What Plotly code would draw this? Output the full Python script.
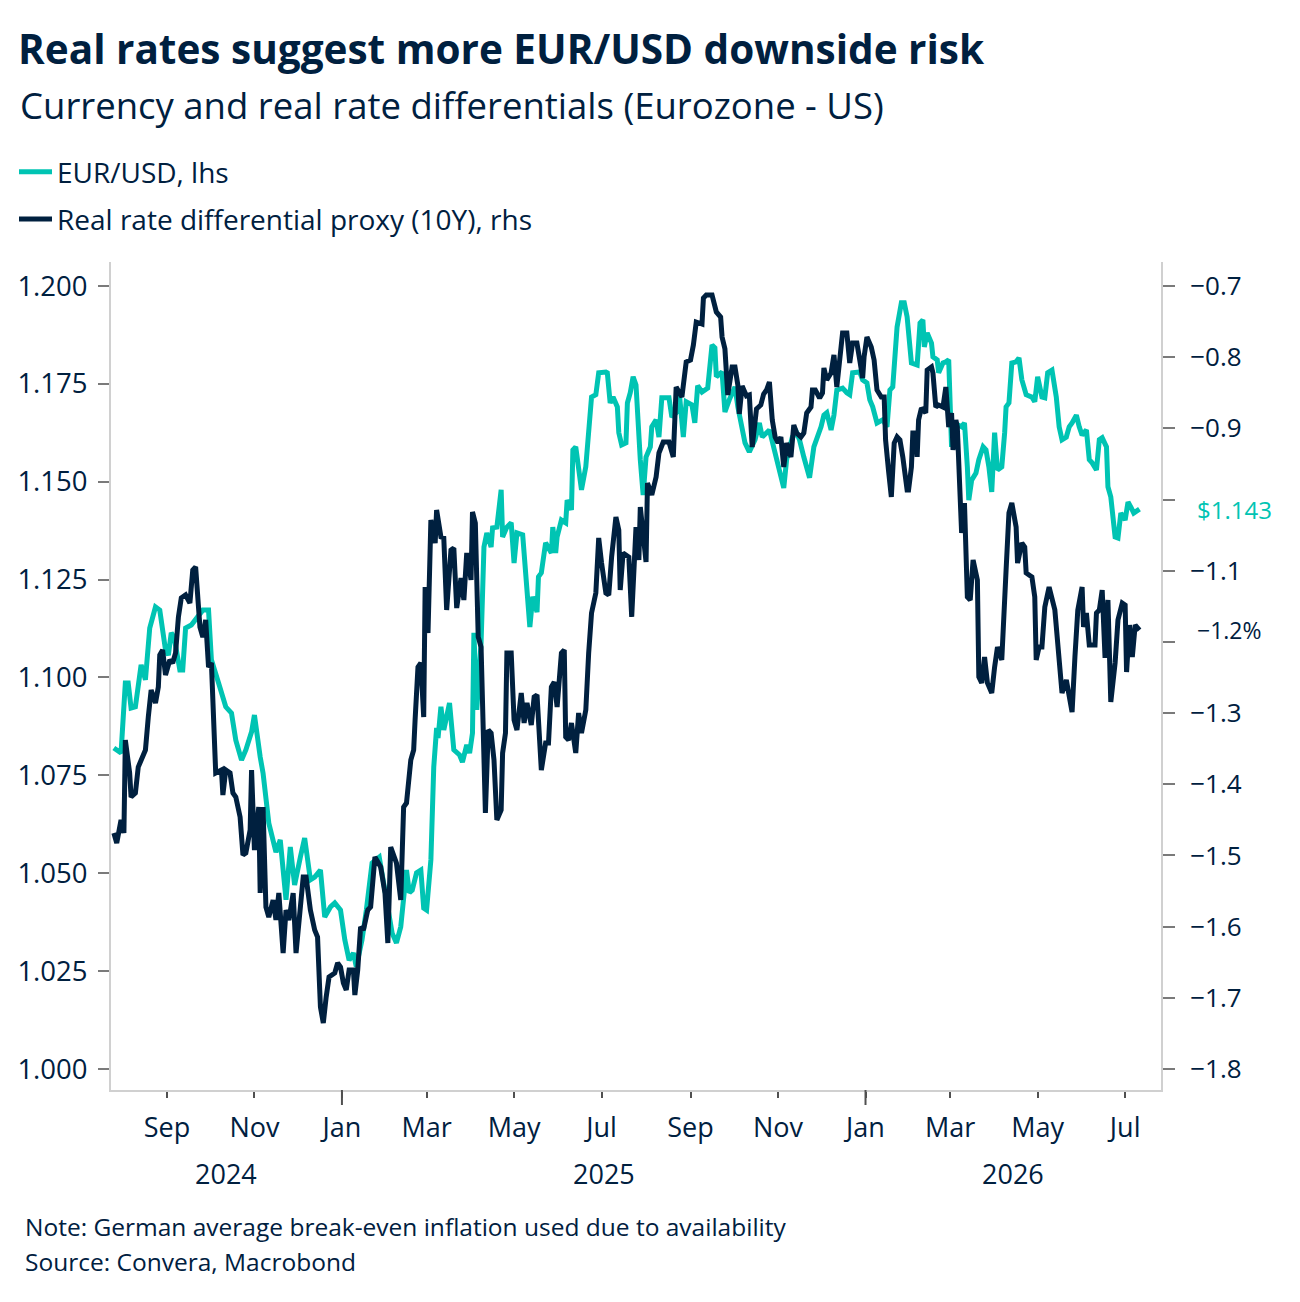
import pandas as pd
import plotly.graph_objects as go

# ---------------- data ----------------
eur_dates = [
    "2024-07-26", "2024-07-31", "2024-08-03", "2024-08-05", "2024-08-07", "2024-08-10", "2024-08-14", "2024-08-17",
    "2024-08-20", "2024-08-24", "2024-08-27", "2024-08-31",
    "2024-09-02", "2024-09-04", "2024-09-06", "2024-09-10", "2024-09-12", "2024-09-14", "2024-09-18", "2024-09-21",
    "2024-09-26", "2024-09-30",
    "2024-10-02", "2024-10-07", "2024-10-10", "2024-10-12", "2024-10-16", "2024-10-19", "2024-10-23", "2024-10-26",
    "2024-10-30",
    "2024-11-01", "2024-11-05", "2024-11-07", "2024-11-11", "2024-11-14", "2024-11-16", "2024-11-19", "2024-11-21",
    "2024-11-23", "2024-11-26", "2024-11-29",
    "2024-12-03", "2024-12-06", "2024-12-10", "2024-12-13", "2024-12-17", "2024-12-20", "2024-12-24", "2024-12-27",
    "2024-12-31",
    "2025-01-03", "2025-01-06", "2025-01-09", "2025-01-11", "2025-01-15", "2025-01-18", "2025-01-22", "2025-01-27",
    "2025-01-29", "2025-01-31",
    "2025-02-05", "2025-02-08", "2025-02-11", "2025-02-15", "2025-02-17", "2025-02-19", "2025-02-22", "2025-02-25",
    "2025-02-27",
    "2025-03-01", "2025-03-04", "2025-03-06", "2025-03-08", "2025-03-09", "2025-03-11", "2025-03-13", "2025-03-17",
    "2025-03-20", "2025-03-24", "2025-03-26", "2025-03-29", "2025-03-31",
    "2025-04-02", "2025-04-03", "2025-04-05", "2025-04-08", "2025-04-10", "2025-04-12", "2025-04-15", "2025-04-16",
    "2025-04-19", "2025-04-22", "2025-04-23", "2025-04-26", "2025-04-29",
    "2025-05-01", "2025-05-03", "2025-05-07", "2025-05-09", "2025-05-12", "2025-05-14", "2025-05-17", "2025-05-18",
    "2025-05-20", "2025-05-23", "2025-05-27", "2025-05-28", "2025-05-30", "2025-05-31",
    "2025-06-03", "2025-06-06", "2025-06-07", "2025-06-10", "2025-06-11", "2025-06-13", "2025-06-15", "2025-06-17",
    "2025-06-20", "2025-06-22", "2025-06-24", "2025-06-27", "2025-06-29",
    "2025-07-04", "2025-07-05", "2025-07-07", "2025-07-09", "2025-07-12", "2025-07-13", "2025-07-15", "2025-07-18",
    "2025-07-19", "2025-07-21", "2025-07-23", "2025-07-25", "2025-07-28", "2025-07-30",
    "2025-08-01", "2025-08-04", "2025-08-05", "2025-08-08", "2025-08-10", "2025-08-12", "2025-08-17", "2025-08-19",
    "2025-08-22", "2025-08-24", "2025-08-27", "2025-08-29",
    "2025-09-02", "2025-09-04", "2025-09-06", "2025-09-09", "2025-09-13", "2025-09-16", "2025-09-18", "2025-09-19",
    "2025-09-23", "2025-09-25", "2025-09-28",
    "2025-10-02", "2025-10-04", "2025-10-07", "2025-10-09", "2025-10-12", "2025-10-16", "2025-10-19", "2025-10-21",
    "2025-10-26", "2025-10-30",
    "2025-11-02", "2025-11-05", "2025-11-07", "2025-11-11", "2025-11-14", "2025-11-16", "2025-11-19", "2025-11-23",
    "2025-11-26", "2025-11-28",
    "2025-12-01", "2025-12-03", "2025-12-05", "2025-12-08", "2025-12-10", "2025-12-12", "2025-12-16", "2025-12-19",
    "2025-12-21", "2025-12-23", "2025-12-28", "2025-12-30",
    "2026-01-02", "2026-01-04", "2026-01-06", "2026-01-09", "2026-01-13", "2026-01-16", "2026-01-18", "2026-01-20",
    "2026-01-23", "2026-01-26", "2026-01-28", "2026-01-30",
    "2026-02-02", "2026-02-06", "2026-02-08", "2026-02-10", "2026-02-11", "2026-02-13", "2026-02-16", "2026-02-17",
    "2026-02-20", "2026-02-21", "2026-02-24", "2026-02-26", "2026-02-28",
    "2026-03-02", "2026-03-04", "2026-03-09", "2026-03-11", "2026-03-13", "2026-03-14", "2026-03-16", "2026-03-19",
    "2026-03-21", "2026-03-24", "2026-03-26", "2026-03-28", "2026-03-30",
    "2026-04-01", "2026-04-03", "2026-04-06", "2026-04-08", "2026-04-09", "2026-04-11", "2026-04-13", "2026-04-16",
    "2026-04-18", "2026-04-20", "2026-04-23", "2026-04-27", "2026-04-29",
    "2026-05-01", "2026-05-04", "2026-05-06", "2026-05-08", "2026-05-11", "2026-05-14", "2026-05-16", "2026-05-18",
    "2026-05-21", "2026-05-23", "2026-05-25", "2026-05-28", "2026-05-30",
    "2026-06-01", "2026-06-04", "2026-06-06", "2026-06-08", "2026-06-11", "2026-06-13", "2026-06-15", "2026-06-18",
    "2026-06-19", "2026-06-21", "2026-06-24", "2026-06-26", "2026-06-28",
    "2026-07-01", "2026-07-03", "2026-07-05", "2026-07-07", "2026-07-11",
]
eur_values = [
    1.0820, 1.0807, 1.0986, 1.0986, 1.0922, 1.0925, 1.1032, 1.0994, 1.1126, 1.1180, 1.1172, 1.1070,
    1.1057, 1.1114, 1.1103, 1.1019, 1.1019, 1.1126, 1.1134, 1.1147, 1.1172, 1.1172,
    1.1045, 1.0986, 1.0950, 1.0925, 1.0909, 1.0840, 1.0789, 1.0815, 1.0861,
    1.0904, 1.0797, 1.0756, 1.0628, 1.0585, 1.0554, 1.0585, 1.0501, 1.0432, 1.0567, 1.0470,
    1.0541, 1.0590, 1.0483, 1.0490, 1.0508, 1.0388, 1.0414, 1.0424, 1.0406,
    1.0330, 1.0278, 1.0296, 1.0261, 1.0330, 1.0406, 1.0526, 1.0541, 1.0501, 1.0450,
    1.0347, 1.0322, 1.0363, 1.0508, 1.0450, 1.0457, 1.0501, 1.0508, 1.0411,
    1.0406, 1.0534, 1.0771, 1.0871, 1.0845, 1.0925, 1.0866, 1.0935, 1.0815, 1.0802, 1.0784, 1.0828, 1.0807,
    1.0858, 1.1114, 1.0917, 1.1088, 1.1333, 1.1369, 1.1333, 1.1382, 1.1384, 1.1479, 1.1359, 1.1384, 1.1395,
    1.1292, 1.1369, 1.1364, 1.1282, 1.1129, 1.1206, 1.1167, 1.1257, 1.1267, 1.1344, 1.1318, 1.1384, 1.1318, 1.1359,
    1.1402, 1.1395, 1.1453, 1.1428, 1.1581, 1.1589, 1.1522, 1.1479, 1.1538, 1.1625, 1.1716, 1.1722, 1.1778,
    1.1780, 1.1778, 1.1701, 1.1716, 1.1691, 1.1625, 1.1594, 1.1599, 1.1701, 1.1727, 1.1768, 1.1747, 1.1556, 1.1466,
    1.1563, 1.1589, 1.1640, 1.1658, 1.1614, 1.1714, 1.1714, 1.1665, 1.1676, 1.1734, 1.1614, 1.1704,
    1.1696, 1.1650, 1.1745, 1.1729, 1.1739, 1.1849, 1.1842, 1.1768, 1.1780, 1.1678, 1.1709,
    1.1742, 1.1691, 1.1640, 1.1599, 1.1576, 1.1607, 1.1650, 1.1614, 1.1632, 1.1573,
    1.1538, 1.1484, 1.1556, 1.1614, 1.1625, 1.1607, 1.1563, 1.1510, 1.1589, 1.1607,
    1.1640, 1.1670, 1.1676, 1.1632, 1.1670, 1.1734, 1.1739, 1.1727, 1.1722, 1.1778, 1.1780, 1.1760,
    1.1752, 1.1709, 1.1691, 1.1650, 1.1658, 1.1640, 1.1734, 1.1742, 1.1895, 1.1957, 1.1957, 1.1921,
    1.1803, 1.1798, 1.1905, 1.1913, 1.1844, 1.1880, 1.1854, 1.1819, 1.1811, 1.1778, 1.1803, 1.1806, 1.1811,
    1.1589, 1.1650, 1.1640, 1.1650, 1.1538, 1.1453, 1.1504, 1.1522, 1.1556, 1.1589, 1.1581, 1.1538, 1.1474,
    1.1625, 1.1530, 1.1538, 1.1625, 1.1691, 1.1701, 1.1803, 1.1806, 1.1816, 1.1760, 1.1722, 1.1716, 1.1704,
    1.1768, 1.1716, 1.1714, 1.1778, 1.1785, 1.1716, 1.1640, 1.1607, 1.1614, 1.1640, 1.1650, 1.1670, 1.1640,
    1.1619, 1.1632, 1.1556, 1.1548, 1.1530, 1.1607, 1.1612, 1.1589, 1.1487, 1.1461, 1.1359, 1.1356, 1.1420,
    1.1402, 1.1448, 1.1435, 1.1420, 1.1430,
]

rr_dates = [
    "2024-07-26", "2024-07-28", "2024-07-31", "2024-08-02", "2024-08-03", "2024-08-06", "2024-08-07", "2024-08-10",
    "2024-08-12", "2024-08-14", "2024-08-17", "2024-08-19", "2024-08-21", "2024-08-24", "2024-08-26", "2024-08-27",
    "2024-08-29", "2024-08-31",
    "2024-09-03", "2024-09-05", "2024-09-07", "2024-09-09", "2024-09-11", "2024-09-14", "2024-09-17", "2024-09-19",
    "2024-09-21", "2024-09-24", "2024-09-26", "2024-09-28", "2024-09-30",
    "2024-10-02", "2024-10-04", "2024-10-05", "2024-10-09", "2024-10-10", "2024-10-12", "2024-10-15", "2024-10-17",
    "2024-10-19", "2024-10-22", "2024-10-24", "2024-10-26", "2024-10-29", "2024-10-30", "2024-10-31",
    "2024-11-01", "2024-11-04", "2024-11-05", "2024-11-07", "2024-11-09", "2024-11-11", "2024-11-14", "2024-11-16",
    "2024-11-18", "2024-11-21", "2024-11-23", "2024-11-25", "2024-11-28", "2024-11-30",
    "2024-12-02", "2024-12-05", "2024-12-07", "2024-12-10", "2024-12-13", "2024-12-15", "2024-12-17", "2024-12-19",
    "2024-12-21", "2024-12-23", "2024-12-27", "2024-12-29", "2024-12-31",
    "2025-01-02", "2025-01-04", "2025-01-06", "2025-01-09", "2025-01-10", "2025-01-12", "2025-01-14", "2025-01-16",
    "2025-01-19", "2025-01-21", "2025-01-24", "2025-01-28", "2025-01-31",
    "2025-02-02", "2025-02-04", "2025-02-08", "2025-02-11", "2025-02-13", "2025-02-15", "2025-02-18", "2025-02-20",
    "2025-02-21", "2025-02-23", "2025-02-25", "2025-02-27", "2025-02-28",
    "2025-03-02", "2025-03-04", "2025-03-07", "2025-03-08", "2025-03-11", "2025-03-13", "2025-03-15", "2025-03-18",
    "2025-03-20", "2025-03-22", "2025-03-25", "2025-03-27", "2025-03-29",
    "2025-04-01", "2025-04-02", "2025-04-04", "2025-04-06", "2025-04-08", "2025-04-10", "2025-04-11", "2025-04-13",
    "2025-04-15", "2025-04-17", "2025-04-19", "2025-04-22", "2025-04-23", "2025-04-25", "2025-04-26", "2025-04-29",
    "2025-05-01", "2025-05-03", "2025-05-06", "2025-05-08", "2025-05-10", "2025-05-13", "2025-05-15", "2025-05-17",
    "2025-05-18", "2025-05-20", "2025-05-23", "2025-05-25", "2025-05-27", "2025-05-29", "2025-05-31",
    "2025-06-03", "2025-06-05", "2025-06-06", "2025-06-08", "2025-06-10", "2025-06-13", "2025-06-15", "2025-06-17",
    "2025-06-20", "2025-06-22", "2025-06-24", "2025-06-27", "2025-06-29",
    "2025-07-01", "2025-07-04", "2025-07-06", "2025-07-08", "2025-07-11", "2025-07-13", "2025-07-14", "2025-07-16",
    "2025-07-20", "2025-07-22", "2025-07-25", "2025-07-27", "2025-07-28",
    "2025-08-01", "2025-08-02", "2025-08-05", "2025-08-08", "2025-08-10", "2025-08-13", "2025-08-17", "2025-08-20",
    "2025-08-22", "2025-08-26", "2025-08-27", "2025-08-29",
    "2025-09-01", "2025-09-03", "2025-09-05", "2025-09-09", "2025-09-10", "2025-09-12", "2025-09-16", "2025-09-19",
    "2025-09-22", "2025-09-23", "2025-09-25", "2025-09-27", "2025-09-30",
    "2025-10-02", "2025-10-04", "2025-10-05", "2025-10-07", "2025-10-10", "2025-10-12", "2025-10-14", "2025-10-17",
    "2025-10-20", "2025-10-22", "2025-10-24", "2025-10-26", "2025-10-28", "2025-10-30",
    "2025-11-01", "2025-11-03", "2025-11-05", "2025-11-07", "2025-11-10", "2025-11-12", "2025-11-14", "2025-11-17",
    "2025-11-19", "2025-11-21", "2025-11-24", "2025-11-25", "2025-11-27", "2025-11-30",
    "2025-12-02", "2025-12-03", "2025-12-05", "2025-12-08", "2025-12-10", "2025-12-12", "2025-12-14", "2025-12-16",
    "2025-12-19", "2025-12-21", "2025-12-23", "2025-12-26", "2025-12-28", "2025-12-30", "2025-12-31",
    "2026-01-02", "2026-01-05", "2026-01-07", "2026-01-09", "2026-01-12", "2026-01-14", "2026-01-15", "2026-01-17",
    "2026-01-19", "2026-01-21", "2026-01-23", "2026-01-25", "2026-01-27", "2026-01-30", "2026-01-31",
    "2026-02-02", "2026-02-03", "2026-02-05", "2026-02-06", "2026-02-07", "2026-02-09", "2026-02-12", "2026-02-13",
    "2026-02-16", "2026-02-17", "2026-02-19", "2026-02-21", "2026-02-24", "2026-02-26", "2026-02-28",
    "2026-03-02", "2026-03-03", "2026-03-05", "2026-03-06", "2026-03-08", "2026-03-09", "2026-03-11", "2026-03-13",
    "2026-03-15", "2026-03-17", "2026-03-20", "2026-03-21", "2026-03-23", "2026-03-25", "2026-03-27", "2026-03-30",
    "2026-04-01", "2026-04-03", "2026-04-06", "2026-04-08", "2026-04-09", "2026-04-11", "2026-04-13", "2026-04-16",
    "2026-04-17", "2026-04-20", "2026-04-22", "2026-04-23", "2026-04-27", "2026-04-29", "2026-04-30",
    "2026-05-02", "2026-05-04", "2026-05-06", "2026-05-09", "2026-05-13", "2026-05-15", "2026-05-18", "2026-05-21",
    "2026-05-23", "2026-05-25", "2026-05-27", "2026-05-29",
    "2026-06-01", "2026-06-02", "2026-06-04", "2026-06-06", "2026-06-10", "2026-06-11", "2026-06-13", "2026-06-15",
    "2026-06-17", "2026-06-19", "2026-06-21", "2026-06-24", "2026-06-26", "2026-06-29",
    "2026-07-01", "2026-07-02", "2026-07-04", "2026-07-06", "2026-07-08", "2026-07-10", "2026-07-11",
]
rr_values = [
    -1.4685, -1.4825, -1.4502, -1.4685, -1.3378, -1.3842, -1.4179, -1.4123, -1.3758, -1.3659, -1.3519, -1.3055,
    -1.2676, -1.2858, -1.2634, -1.2184, -1.2114, -1.2465,
    -1.2254, -1.2296, -1.2156, -1.1650, -1.1383, -1.1341, -1.1454, -1.0990, -1.0948, -1.1791, -1.1931, -1.1692,
    -1.2353,
    -1.2296, -1.3378, -1.3842, -1.3800, -1.4151, -1.3800, -1.3842, -1.4123, -1.4179, -1.4460, -1.4994, -1.4966,
    -1.4643, -1.3800, -1.4502,
    -1.4924, -1.4320, -1.5528, -1.4320, -1.5724, -1.5865, -1.5626, -1.5907, -1.5528, -1.6371, -1.5767, -1.5907,
    -1.5528, -1.6371,
    -1.5949, -1.5303, -1.5303, -1.5767, -1.6048, -1.6146, -1.7129, -1.7354, -1.6989, -1.6708, -1.6652, -1.6511,
    -1.6567,
    -1.6792, -1.6890, -1.6609, -1.6609, -1.6961, -1.6609, -1.6005, -1.6048, -1.5767, -1.5724, -1.5022, -1.5162,
    -1.5528,
    -1.6230, -1.4881, -1.5106, -1.5626, -1.4320, -1.4263, -1.3659, -1.3519, -1.3097, -1.2353, -1.2296, -1.3055,
    -1.1229,
    -1.1875, -1.0287, -1.0611, -1.0147, -1.0526, -1.0540, -1.1552, -1.0709, -1.0681, -1.1524, -1.1102, -1.1411,
    -1.0751,
    -1.1130, -1.0175, -1.0330, -1.1931, -1.2072, -1.3842, -1.4404, -1.3238, -1.3280, -1.3659, -1.4502, -1.4362,
    -1.3561, -1.3280, -1.2156, -1.2156,
    -1.3097, -1.3238, -1.2718, -1.3139, -1.2858, -1.3167, -1.2774, -1.2746, -1.3097, -1.3800, -1.3420, -1.3420,
    -1.2634, -1.2563, -1.2915,
    -1.2156, -1.2114, -1.3336, -1.3378, -1.3139, -1.3561, -1.2999, -1.3280, -1.2957, -1.2156, -1.1594, -1.1313,
    -1.0540,
    -1.0892, -1.1313, -1.1341, -1.0807, -1.0245, -1.0428, -1.1271, -1.0751, -1.0807, -1.1650, -1.0386, -1.0849,
    -1.0105,
    -1.0878, -0.9768, -0.9936, -0.9683, -0.9346, -0.9192, -0.9192, -0.9402, -0.8419, -0.8559, -0.8419, -0.8068,
    -0.8040, -0.7829, -0.7506, -0.7534, -0.7169, -0.7126, -0.7126, -0.7365, -0.7436, -0.7717, -0.7885, -0.8531,
    -0.8138,
    -0.8138, -0.8391, -0.8798, -0.8405, -0.8545, -0.8531, -0.9262, -0.8728, -0.8672, -0.8517, -0.8461, -0.8349,
    -0.8883, -0.9121,
    -0.9206, -0.9121, -0.9543, -0.9206, -0.9402, -0.8953, -0.9065, -0.9121, -0.9065, -0.8784, -0.8700, -0.8461,
    -0.8461, -0.8573,
    -0.8503, -0.8152, -0.8321, -0.8222, -0.7969, -0.8419, -0.8040, -0.7660, -0.7660, -0.8082, -0.7801, -0.7801,
    -0.8040, -0.8293, -0.7997,
    -0.7717, -0.7857, -0.8040, -0.8461, -0.8559, -0.8559, -0.9164, -0.9585, -0.9964, -0.9206, -0.9121, -0.9164,
    -0.9402, -0.9866, -0.9866,
    -0.9543, -0.9065, -0.9065, -0.9402, -0.8883, -0.8714, -0.8784, -0.8180, -0.8138, -0.8222, -0.8700, -0.8672,
    -0.8700, -0.8419, -0.8981,
    -0.8784, -0.9304, -0.8883, -0.8981, -1.0006, -1.0470, -1.0049, -1.1369, -1.1411, -1.0849, -1.1130, -1.2493,
    -1.2577, -1.2212, -1.2577, -1.2718,
    -1.2353, -1.2072, -1.2254, -1.1594, -1.0990, -1.0189, -1.0049, -1.0386, -1.0892, -1.0611, -1.0667, -1.1032,
    -1.1088, -1.1369, -1.2254,
    -1.2072, -1.2072, -1.1510, -1.1229, -1.1552, -1.2016, -1.2718, -1.2535, -1.2774, -1.2985, -1.2212, -1.1552,
    -1.1229, -1.1791, -1.1594, -1.2044, -1.2044, -1.1594, -1.1552, -1.1271, -1.2226, -1.1411, -1.2844, -1.2296,
    -1.1692, -1.1454,
    -1.1482, -1.2423, -1.1763, -1.2212, -1.1763, -1.1805, -1.1833,
]

month_ticks = ["2024-09-01", "2024-11-01", "2025-01-01", "2025-03-01", "2025-05-01", "2025-07-01",
               "2025-09-01", "2025-11-01", "2026-01-01", "2026-03-01", "2026-05-01", "2026-07-01"]
month_labels = ["Sep", "Nov", "Jan", "Mar", "May", "Jul", "Sep", "Nov", "Jan", "Mar", "May", "Jul"]
year_starts = ["2025-01-01", "2026-01-01"]
year_labels = ["2024", "2025", "2026"]

left_ticks = [1.000, 1.025, 1.050, 1.075, 1.100, 1.125, 1.150, 1.175, 1.200]
right_ticks = [-1.8, -1.7, -1.6, -1.5, -1.4, -1.3, -1.2, -1.1, -1.0, -0.9, -0.8, -0.7]

TITLE = "Real rates suggest more EUR/USD downside risk"
SUBTITLE = "Currency and real rate differentials (Eurozone - US)"
NOTE = "Note: German average break-even inflation used due to availability"
SOURCE = "Source: Convera, Macrobond"

# ---------------- style ----------------
TEAL = "#00c4b3"
NAVY = "#00203f"
AXIS_GREY = "#d0d0d0"
TICK_GREY = "#7a7a7a"
FONT = "Open Sans"

X_RANGE = ["2024-07-24", "2026-07-26"]
PLOT_L, PLOT_R, PLOT_T, PLOT_B = 111, 1161, 262, 1090
PLOT_W = PLOT_R - PLOT_L
PLOT_H = PLOT_B - PLOT_T


def px_x(px):
    return (px - PLOT_L) / PLOT_W


def px_y(py):
    return (PLOT_B - py) / PLOT_H


fig = go.Figure()
fig.add_trace(go.Scatter(
    x=eur_dates, y=eur_values, name="EUR/USD, lhs", mode="lines",
    line=dict(color=TEAL, width=5), legendgroup="eur", yaxis="y"))
fig.add_trace(go.Scatter(
    x=rr_dates, y=rr_values, name="Real rate differential proxy (10Y), rhs", mode="lines",
    line=dict(color=NAVY, width=5), legendgroup="rr", yaxis="y2"))

right_text = []
for v in right_ticks:
    if abs(v + 1.0) < 1e-9 or abs(v + 1.2) < 1e-9:
        right_text.append("")
    else:
        right_text.append(("\u2212" if v < 0 else "") + f"{abs(v):.1f}")

fig.update_layout(
    width=1300, height=1302,
    margin=dict(l=PLOT_L, r=1300 - PLOT_R, t=PLOT_T, b=1302 - PLOT_B, autoexpand=False),
    paper_bgcolor="white", plot_bgcolor="white",
    font=dict(family=FONT, color=NAVY, size=24),
    title=dict(text=f"<b>{TITLE}</b>", x=18 / 1300, xref="container", xanchor="left",
               y=1 - 50 / 1302, yref="container", yanchor="middle",
               font=dict(family=FONT, size=40.5, color=NAVY)),
    showlegend=True,
    legend=dict(x=14 / 1300, xref="container", xanchor="left",
                y=1 - 147 / 1302, yref="container", yanchor="top",
                font=dict(size=28, color=NAVY), tracegroupgap=8,
                bgcolor="rgba(0,0,0,0)", itemwidth=33),
    xaxis=dict(type="date", range=X_RANGE, showgrid=False, zeroline=False,
               showline=True, linecolor=AXIS_GREY, linewidth=2,
               ticks="outside", ticklen=6, tickwidth=2, tickcolor="#505050",
               tickmode="array", tickvals=month_ticks, ticktext=month_labels, tickangle=0,
               tickfont=dict(size=27, color=NAVY), ticklabelstandoff=7),
    yaxis=dict(range=[0.99464, 1.2061], showgrid=False, zeroline=False,
               showline=True, linecolor=AXIS_GREY, linewidth=2,
               ticks="outside", ticklen=11, tickwidth=2, tickcolor=TICK_GREY,
               tickmode="array", tickvals=left_ticks,
               ticktext=[f"{v:.3f}" for v in left_ticks],
               tickfont=dict(size=27.5, color=NAVY), ticklabelstandoff=5),
    yaxis2=dict(range=[-1.8295, -0.6663], overlaying="y", side="right",
                showgrid=False, zeroline=False,
                showline=True, linecolor=AXIS_GREY, linewidth=2,
                ticks="outside", ticklen=12, tickwidth=2, tickcolor=TICK_GREY,
                tickmode="array", tickvals=right_ticks, ticktext=right_text,
                tickfont=dict(size=26, color=NAVY), ticklabelstandoff=10),
)

# longer ticks at year boundaries
for d in year_starts:
    fig.add_shape(type="line", xref="x", yref="paper", x0=d, x1=d, y0=0, y1=-15 / PLOT_H,
                  line=dict(color="#505050", width=2))

# year labels centred on each visible year span
bounds = [pd.Timestamp(X_RANGE[0])] + [pd.Timestamp(d) for d in year_starts] + [pd.Timestamp(X_RANGE[1])]
for lab, a, b in zip(year_labels, bounds[:-1], bounds[1:]):
    mid = a + (b - a) / 2
    fig.add_annotation(x=mid, xref="x", y=px_y(1173), yref="paper", text=lab,
                       showarrow=False, yanchor="middle", xanchor="center",
                       font=dict(size=27, color=NAVY))

# subtitle
fig.add_annotation(x=px_x(18), xref="paper", y=px_y(105), yref="paper", text=SUBTITLE,
                   showarrow=False, xanchor="left", yanchor="middle",
                   font=dict(size=36.5, color=NAVY))

# notes
fig.add_annotation(x=px_x(23), xref="paper", y=px_y(1226), yref="paper",
                   text=NOTE, showarrow=False, xanchor="left", yanchor="middle",
                   font=dict(size=24.5, color=NAVY))
fig.add_annotation(x=px_x(23), xref="paper", y=px_y(1261), yref="paper",
                   text=SOURCE, showarrow=False, xanchor="left", yanchor="middle",
                   font=dict(size=24.5, color=NAVY))

# last value labels
fig.add_annotation(x=1, xref="paper", xshift=34, y=eur_values[-1], yref="y",
                   text=f"${eur_values[-1]:.3f}", showarrow=False, xanchor="left", yanchor="middle",
                   font=dict(size=24, color=TEAL))
fig.add_annotation(x=1, xref="paper", xshift=34, y=rr_values[-1], yref="y2",
                   text=f"\u2212{abs(rr_values[-1]):.1f}%", showarrow=False, xanchor="left",
                   yanchor="middle", font=dict(size=23, color=NAVY))

fig.write_html("out.html")
